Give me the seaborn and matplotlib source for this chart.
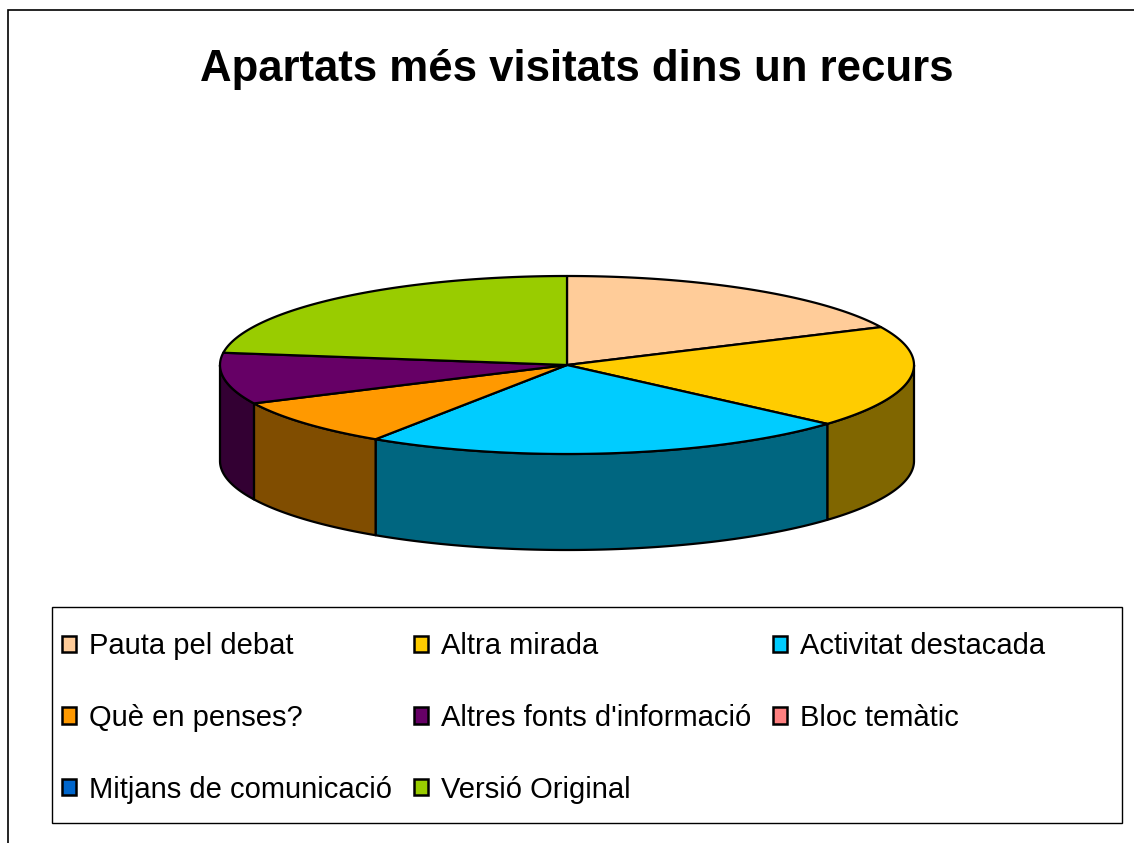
import numpy as np
import matplotlib
matplotlib.use("Agg")
import matplotlib.pyplot as plt
import seaborn as sns
from matplotlib.patches import Polygon, Patch, Rectangle

# ---------------- data ----------------
categories = ["Pauta pel debat", "Altra mirada", "Activitat destacada", "Què en penses?",
              "Altres fonts d'informació", "Bloc temàtic", "Mitjans de comunicació",
              "Versió Original"]
values = [18.0, 18.5, 22.8, 8.6, 9.3, 0.0, 0.0, 22.8]
top_colors = ["#FFCC99", "#FFCC00", "#00CCFF", "#FF9900", "#660066", "#FF8080",
              "#0066CC", "#99CC00"]
title = "Apartats més visitats dins un recurs"

sns.set_theme(style="white")
plt.rcParams['font.family'] = ['Liberation Sans', 'DejaVu Sans']
plt.rcParams['text.color'] = 'black'

W, H = 1134, 843
fig = plt.figure(figsize=(W / 100, H / 100), dpi=100)
fig.patch.set_facecolor("white")

# outer chart frame (left and top edges visible)
fig.patches.append(Rectangle((8 / W, -0.1), 1.2, 1 - 10 / H + 0.1, transform=fig.transFigure,
                             fill=False, edgecolor="black", linewidth=1.2))

# ---------------- 3D pie ----------------
a_px, b_px, d_px = 347, 89, 96
k = b_px / a_px
d = d_px / a_px
cx, cy = 567, 365
ax = fig.add_axes([(cx - a_px) / W, (H - (cy + b_px + d_px)) / H,
                   2 * a_px / W, (2 * b_px + d_px) / H])
ax.set_xlim(-1, 1)
ax.set_ylim(-k - d, k)
ax.axis("off")

vals = np.array(values, dtype=float)
cum = np.concatenate([[0], np.cumsum(vals)]) / vals.sum() * 2 * np.pi


def shade(c, f=0.5):
    r, g, b = matplotlib.colors.to_rgb(c)
    return (r * f, g * f, b * f)


lw = 1.6
# side walls (front half only)
for i, v in enumerate(vals):
    if v <= 0:
        continue
    t0, t1 = cum[i], cum[i + 1]
    s0, s1 = max(t0, np.pi / 2), min(t1, 3 * np.pi / 2)
    if s1 <= s0:
        continue
    t = np.linspace(s0, s1, 200)
    top = np.column_stack([np.sin(t), k * np.cos(t)])
    bot = np.column_stack([np.sin(t[::-1]), k * np.cos(t[::-1]) - d])
    ax.add_patch(Polygon(np.vstack([top, bot]), closed=True, facecolor=shade(top_colors[i]),
                         edgecolor="black", linewidth=lw, joinstyle="round", clip_on=False))

# top faces
for i, v in enumerate(vals):
    if v <= 0:
        continue
    t = np.linspace(cum[i], cum[i + 1], 300)
    pts = np.vstack([[0, 0], np.column_stack([np.sin(t), k * np.cos(t)])])
    ax.add_patch(Polygon(pts, closed=True, facecolor=top_colors[i], edgecolor="black",
                         linewidth=lw, joinstyle="round", clip_on=False))

# ---------------- title ----------------
fig.text(577 / W, 1 - 69 / H, title, ha="center", va="center", fontsize=31.5,
         fontweight="bold", color="black")

# ---------------- legend ----------------
fig.patches.append(Rectangle((52 / W, 1 - 823 / H), (1122 - 52) / W, (823 - 607) / H,
                             transform=fig.transFigure, fill=False, edgecolor="black",
                             linewidth=1.0))
handles = [Patch(facecolor=c, edgecolor="black", linewidth=1.8, label=l)
           for l, c in zip(categories, top_colors)]
order = [0, 3, 6, 1, 4, 7, 2, 5]
leg = fig.legend([handles[j] for j in order], [categories[j] for j in order], ncol=3,
                 loc="upper left", bbox_to_anchor=(62 / W, 1 - 632 / H), frameon=False,
                 fontsize=21, handlelength=0.48, handleheight=0.48, handletextpad=0.45,
                 columnspacing=0.75, labelspacing=1.5, borderpad=0, borderaxespad=0)
for txt in leg.get_texts():
    txt.set_color("black")

fig.savefig("out.png", dpi=100, facecolor="white")
